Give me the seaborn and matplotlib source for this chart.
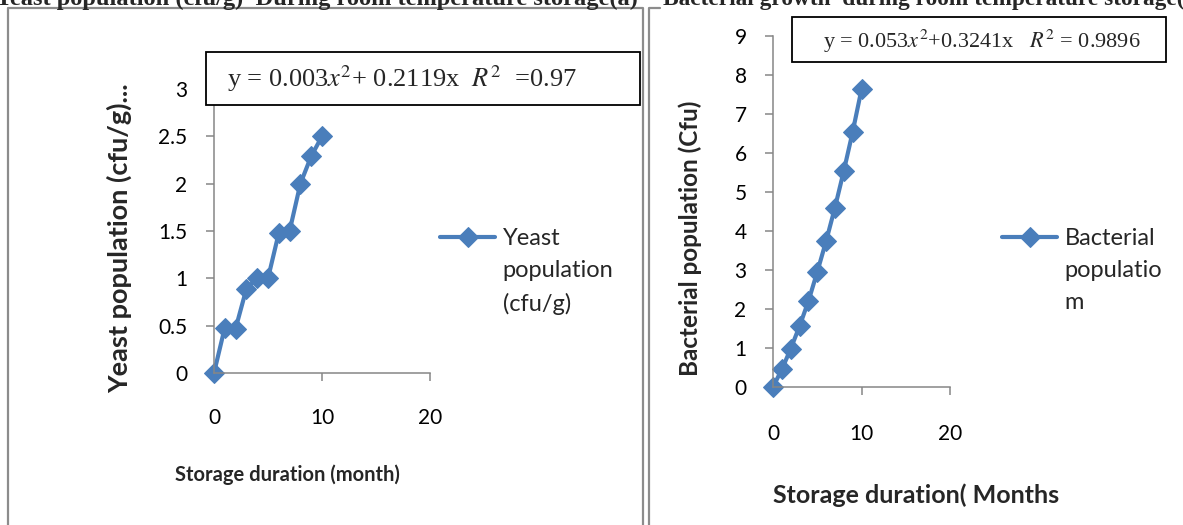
import matplotlib
matplotlib.use("Agg")
import matplotlib.pyplot as plt
import seaborn as sns
import pandas as pd
from matplotlib.patches import Rectangle
from matplotlib.lines import Line2D

# ---- data -------------------------------------------------------------
months = [0, 1, 2, 3, 4, 5, 6, 7, 8, 9, 10]
yeast_cfu = [0, 0.48, 0.47, 0.89, 1.0, 1.0, 1.48, 1.5, 2.0, 2.29, 2.5]
bacterial_cfu = [0, 0.45, 0.98, 1.56, 2.2, 2.95, 3.74, 4.6, 5.54, 6.54, 7.63]

month_ticks = [0, 10, 20]
yeast_ticks = [0, 0.5, 1, 1.5, 2, 2.5, 3]
yeast_tick_labels = ["0", "0.5", "1", "1.5", "2", "2.5", "3"]
bact_ticks = [0, 1, 2, 3, 4, 5, 6, 7, 8, 9]

yeast_title = "Yeast population (cfu/g)  During room temperature storage(a)"
bact_title = "Bacterial growth  during room temperature storage(b)"
yeast_eq = r"y = 0.003$x^2$+ 0.2119x  $R^2$  =0.97"
bact_eq = r"y = 0.053$x^2$+0.3241x   $R^2$ = 0.9896"

# ---- style ------------------------------------------------------------
sns.set_theme(style="white")
plt.rcParams["font.family"] = ["Lato", "DejaVu Sans"]
plt.rcParams["mathtext.fontset"] = "stix"

BLUE = "#4A7EBB"
GRAY = "#868686"
PANEL = "#8C8C8C"

W, H = 1183, 525
fig = plt.figure(figsize=(W / 100, H / 100), dpi=100)
fig.patch.set_facecolor("white")


def box(x0, y0, x1, y1):
    """Pixel box (origin top-left) -> figure fraction [l, b, w, h]."""
    return [x0 / W, 1 - y1 / H, (x1 - x0) / W, (y1 - y0) / H]


def fx(x):
    return x / W


def fy(y):
    return 1 - y / H


# panel frames
fig.add_artist(Line2D([fx(8), fx(8), fx(643), fx(643)], [0, fy(8), fy(8), 0],
                      transform=fig.transFigure, color=PANEL, lw=1.6))
fig.add_artist(Line2D([fx(649), fx(649), fx(660)], [0, fy(8), fy(8)],
                      transform=fig.transFigure, color=PANEL, lw=1.6))

# captions running along the top edge of the page
fig.text(fx(638), fy(4.5), yeast_title, ha="right", va="baseline",
         family="Liberation Serif", weight="bold", fontsize=17.6)
fig.text(fx(663), fy(4.5), bact_title, ha="left", va="baseline",
         family="Liberation Serif", weight="bold", fontsize=16.8)

ax1 = fig.add_axes(box(214, 89, 430, 373))
ax2 = fig.add_axes(box(773, 36, 950, 387))

df = pd.DataFrame({"month": months, "yeast": yeast_cfu, "bacteria": bacterial_cfu})

sns.lineplot(data=df, x="month", y="yeast", ax=ax1, color=BLUE, lw=3,
             marker="D", markersize=10, markeredgecolor=BLUE, clip_on=False,
             label="Yeast\npopulation\n(cfu/g)")
sns.lineplot(data=df, x="month", y="bacteria", ax=ax2, color=BLUE, lw=3,
             marker="D", markersize=10, markeredgecolor=BLUE, clip_on=False,
             label="Bacterial\npopulatio\nm")

ax1.set_xlim(0, 20)
ax1.set_ylim(0, 3)
ax1.set_xticks(month_ticks)
ax1.set_yticks(yeast_ticks)
ax1.set_yticklabels(yeast_tick_labels)

ax2.set_xlim(0, 20)
ax2.set_ylim(0, 9)
ax2.set_xticks(month_ticks)
ax2.set_yticks(bact_ticks)

for ax, xpad in ((ax1, 19), (ax2, 21)):
    sns.despine(ax=ax)
    for s in ("left", "bottom"):
        ax.spines[s].set_color(GRAY)
        ax.spines[s].set_linewidth(1.1)
    ax.tick_params(axis="both", direction="out", length=6, width=1.1,
                   color=GRAY, labelsize=15, labelcolor="black",
                   left=True, bottom=True)
    ax.tick_params(axis="y", pad=13)
    ax.tick_params(axis="x", pad=xpad)
    ax.grid(False)

# axis titles
ax1.set_ylabel("Yeast population (cfu/g)...", fontsize=19.5, weight="bold")
ax1.yaxis.set_label_coords((119 - 214) / 216, (373 - 238) / 284)
ax1.yaxis.label.set_va("center")
ax1.set_xlabel("Storage duration (month)", fontsize=14.5, weight="bold")
ax1.xaxis.set_label_coords((287 - 214) / 216, (373 - 475) / 284)
ax1.xaxis.label.set_va("center")

ax2.set_ylabel("Bacterial population (Cfu)", fontsize=17.5, weight="bold")
ax2.yaxis.set_label_coords((690 - 773) / 177, (387 - 238) / 351)
ax2.yaxis.label.set_va("center")
ax2.set_xlabel("Storage duration( Months", fontsize=18, weight="bold")
ax2.xaxis.set_label_coords((916 - 773) / 177, (387 - 495) / 351)
ax2.xaxis.label.set_va("center")

# legends beside each plot; the key sits level with the first text line
for ax, x0 in ((ax1, 440), (ax2, 1002)):
    leg = ax.legend(loc="upper left", bbox_to_anchor=(fx(x0), fy(228)),
                    bbox_transform=fig.transFigure, frameon=False,
                    fontsize=17, handlelength=2.35, handletextpad=0.3,
                    handleheight=1.0, borderpad=0, borderaxespad=0)
    for t in leg.get_texts():
        t.set_linespacing(1.65)
    for column in leg._legend_handle_box.get_children():
        for item in column.get_children():
            item.align = "top"

# trendline equation boxes
fig.add_artist(Rectangle((fx(206), fy(105)), fx(640) - fx(206), fy(52) - fy(105),
                         transform=fig.transFigure, facecolor="white",
                         edgecolor="black", lw=1.3, zorder=5))
fig.text(fx(227), fy(79), yeast_eq, ha="left", va="center",
         family="Liberation Serif", fontsize=19, zorder=6)

fig.add_artist(Rectangle((fx(792), fy(62)), fx(1166) - fx(792), fy(17) - fy(62),
                         transform=fig.transFigure, facecolor="white",
                         edgecolor="black", lw=1.3, zorder=5))
fig.text(fx(823), fy(41), bact_eq, ha="left", va="center",
         family="Liberation Serif", fontsize=16, zorder=6)

fig.savefig("out.png", dpi=100, facecolor="white")
